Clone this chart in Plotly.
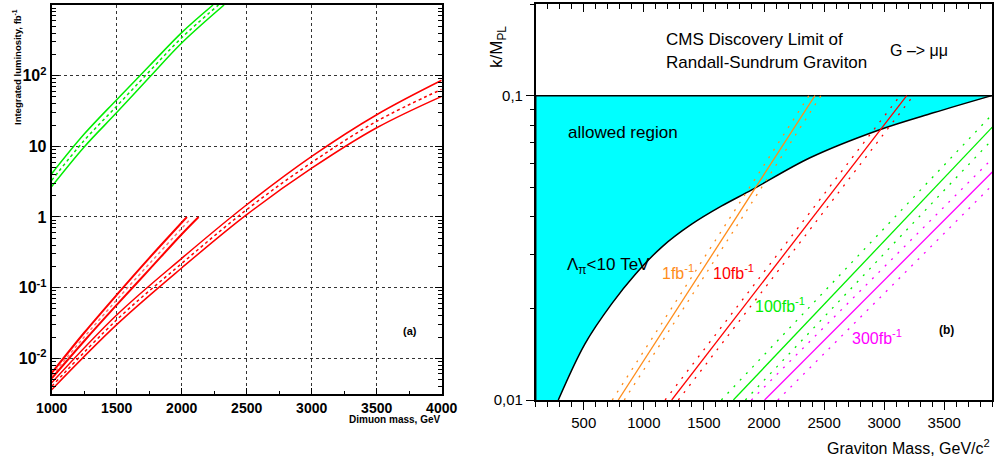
import plotly.graph_objects as go

# ================= Panel (a): integrated luminosity vs dimuon mass =================
green_upper_mass = [1000, 1250, 1500, 1750, 2000, 2241]
green_upper_lumi = [4.1, 14.9, 45.7, 137, 407, 1000]
green_mid_mass = [1000, 1250, 1500, 1750, 2000, 2283]
green_mid_lumi = [3.3, 12.1, 37, 114, 344, 1000]
green_lower_mass = [1000, 1250, 1500, 1750, 2000, 2326]
green_lower_lumi = [2.7, 9.8, 30, 94, 290, 1000]

redA_upper_mass = [1000, 1250, 1500, 1750, 2040]
redA_upper_lumi = [0.0062, 0.023, 0.079, 0.262, 1.0]
redA_mid_mass = [1000, 1250, 1500, 1750, 2000, 2060]
redA_mid_lumi = [0.0057, 0.020, 0.067, 0.217, 0.69, 0.91]
redA_lower_mass = [1000, 1250, 1500, 1750, 2000, 2130]
redA_lower_lumi = [0.0052, 0.0176, 0.057, 0.18, 0.57, 1.0]

redB_mass = [1000, 1500, 2000, 2500, 3000, 3500, 4000]
redB_upper_lumi = [0.0045, 0.041, 0.26, 1.49, 7.2, 28, 86]
redB_mid_lumi = [0.0040, 0.035, 0.22, 1.27, 5.9, 22.6, 64]
redB_lower_lumi = [0.0036, 0.030, 0.19, 1.08, 4.9, 18.3, 51]

a_xticks = [1000, 1500, 2000, 2500, 3000, 3500, 4000]
a_xminor = [1250, 1750, 2250, 2750, 3250, 3750]
a_yticks = [0.01, 0.1, 1, 10, 100]
a_yticktext = ["10<sup>-2</sup>", "10<sup>-1</sup>", "1", "10", "10<sup>2</sup>"]

# ================= Panel (b): k/M_PL vs graviton mass =================
boundary_mass = [288, 510, 732, 926, 1149, 1398, 1648, 1898, 2383, 2951, 3409, 3895]
boundary_k = [0.0100, 0.0153, 0.0207, 0.0258, 0.0318, 0.0378, 0.0434, 0.0490,
              0.0625, 0.0770, 0.0878, 0.1000]
allowed_edge_mass = [100, 100, 3900]
allowed_edge_k = [0.01, 0.1, 0.1]

disc_1fb_mass = [787, 2424]
disc_1fb_lo_mass = [737, 2374]
disc_1fb_hi_mass = [837, 2474]
disc_1fb_k = [0.01, 0.1]

disc_10fb_mass = [1232, 3188]
disc_10fb_lo_mass = [1177, 3133]
disc_10fb_hi_mass = [1287, 3243]
disc_10fb_k = [0.01, 0.1]

disc_100fb_mass = [1745, 3900]
disc_100fb_k = [0.01, 0.0788]
disc_100fb_lo_mass = [1645, 3900]
disc_100fb_lo_k = [0.01, 0.0868]
disc_100fb_hi_mass = [1845, 3900]
disc_100fb_hi_k = [0.01, 0.0717]

disc_300fb_mass = [2005, 3900]
disc_300fb_k = [0.01, 0.0561]
disc_300fb_lo_mass = [1895, 3900]
disc_300fb_lo_k = [0.01, 0.0621]
disc_300fb_hi_mass = [2115, 3900]
disc_300fb_hi_k = [0.01, 0.0508]

b_xticks = [500, 1000, 1500, 2000, 2500, 3000, 3500]
b_yticks = [0.01, 0.1]
b_yticktext = ["0,01", "0,1"]

# ---------------- styling ----------------
W, H = 995, 462
FONT = "Liberation Sans, Arial, Helvetica, sans-serif"
GREEN = "#00ee00"
RED = "#ff0000"
PINK = "#ff7070"
ORANGE = "#ff8c1a"
MAGENTA = "#ff00ff"
CYAN = "#00ffff"


def px(xp, yp):
    return xp / W, 1 - yp / H


fig = go.Figure()


def add_a(x, y, color, dash=None, width=1.5):
    fig.add_trace(go.Scatter(x=x, y=y, mode="lines", xaxis="x", yaxis="y",
                             line=dict(color=color, width=width, dash=dash, shape="spline"),
                             showlegend=False, hoverinfo="skip"))


add_a(green_upper_mass, green_upper_lumi, GREEN)
add_a(green_mid_mass, green_mid_lumi, GREEN, "3px,3px")
add_a(green_lower_mass, green_lower_lumi, GREEN)

add_a(redA_upper_mass, redA_upper_lumi, RED, width=2)
add_a(redA_mid_mass, redA_mid_lumi, PINK, "3px,3px")
add_a(redA_lower_mass, redA_lower_lumi, RED, width=2)

add_a(redB_mass, redB_upper_lumi, RED)
add_a(redB_mass, redB_mid_lumi, RED, "3px,3px")
add_a(redB_mass, redB_lower_lumi, RED)

# ---- panel b ----
fig.add_trace(go.Scatter(x=allowed_edge_mass, y=allowed_edge_k, mode="lines",
                         xaxis="x2", yaxis="y2",
                         line=dict(color="black", width=1.5),
                         showlegend=False, hoverinfo="skip"))
fig.add_trace(go.Scatter(x=boundary_mass, y=boundary_k, mode="lines",
                         xaxis="x2", yaxis="y2", fill="tonexty", fillcolor=CYAN,
                         line=dict(color="black", width=1.5, shape="spline"),
                         showlegend=False, hoverinfo="skip"))


def add_b(x, y, color, dash=None, width=1.3):
    fig.add_trace(go.Scatter(x=x, y=y, mode="lines", xaxis="x2", yaxis="y2",
                             line=dict(color=color, width=width, dash=dash),
                             showlegend=False, hoverinfo="skip"))


DOT = "2px,7px"
add_b(disc_1fb_mass, disc_1fb_k, ORANGE)
add_b(disc_1fb_lo_mass, disc_1fb_k, ORANGE, DOT)
add_b(disc_1fb_hi_mass, disc_1fb_k, ORANGE, DOT)
add_b(disc_10fb_mass, disc_10fb_k, RED)
add_b(disc_10fb_lo_mass, disc_10fb_k, RED, DOT)
add_b(disc_10fb_hi_mass, disc_10fb_k, RED, DOT)
add_b(disc_100fb_mass, disc_100fb_k, GREEN)
add_b(disc_100fb_lo_mass, disc_100fb_lo_k, GREEN, DOT)
add_b(disc_100fb_hi_mass, disc_100fb_hi_k, GREEN, DOT)
add_b(disc_300fb_mass, disc_300fb_k, MAGENTA)
add_b(disc_300fb_lo_mass, disc_300fb_lo_k, MAGENTA, DOT)
add_b(disc_300fb_hi_mass, disc_300fb_hi_k, MAGENTA, DOT)

# dummy for top overlay axis
fig.add_trace(go.Scatter(x=[None], y=[None], xaxis="x3", yaxis="y2",
                         showlegend=False, hoverinfo="skip"))

log_minor = [m * 10 ** e for e in range(-3, 3) for m in range(2, 10)]

fig.update_layout(
    width=W, height=H, autosize=False,
    margin=dict(l=0, r=0, t=0, b=0, autoexpand=False),
    paper_bgcolor="white", plot_bgcolor="white",
    font=dict(family=FONT, color="black"),
    showlegend=False,
    xaxis=dict(
        domain=[51.7 / W, 441.7 / W], range=[1000, 4000], anchor="y", automargin=False,
        tickmode="array", tickvals=a_xticks, ticks="inside", ticklen=6, tickwidth=1,
        tickcolor="black",
        minor=dict(tickmode="array", tickvals=a_xminor, ticks="inside", ticklen=3,
                   tickcolor="black", showgrid=False),
        showgrid=True, gridcolor="#333333", griddash="dot", gridwidth=1,
        showline=True, linecolor="black", linewidth=2, mirror=True, zeroline=False,
        tickfont=dict(family=FONT, size=14, weight="bold"),
    ),
    yaxis=dict(
        domain=[1 - 394 / H, 1 - 5 / H], type="log", range=[-2.505, 3.0], anchor="x",
        automargin=False,
        tickmode="array", tickvals=a_yticks, ticktext=a_yticktext,
        ticks="inside", ticklen=7, tickcolor="black",
        minor=dict(tickmode="array", tickvals=log_minor, ticks="inside", ticklen=4,
                   tickcolor="black", showgrid=False),
        showgrid=True, gridcolor="#333333", griddash="dot", gridwidth=1,
        showline=True, linecolor="black", linewidth=2, mirror="allticks", zeroline=False,
        tickfont=dict(family=FONT, size=16, weight="bold"),
    ),
    xaxis2=dict(
        domain=[535.7 / W, 992.3 / W], range=[100, 3900], anchor="y2", automargin=False,
        tickmode="array", tickvals=b_xticks, ticks="outside", ticklen=8, tickcolor="black",
        minor=dict(dtick=100, tick0=0, ticks="outside", ticklen=5, tickcolor="black",
                   showgrid=False),
        showgrid=False, showline=True, linecolor="black", linewidth=1.5, mirror=True,
        zeroline=False, tickfont=dict(family=FONT, size=15),
    ),
    xaxis3=dict(
        overlaying="x2", side="top", anchor="y2", range=[100, 3900], automargin=False,
        tickmode="array", tickvals=b_xticks, ticks="inside", ticklen=8, tickcolor="black",
        minor=dict(dtick=100, tick0=0, ticks="inside", ticklen=5, tickcolor="black",
                   showgrid=False),
        showticklabels=False, showgrid=False, showline=False, zeroline=False,
    ),
    yaxis2=dict(
        domain=[1 - 400 / H, 1 - 4 / H], type="log", range=[-2, -0.69897], anchor="x2",
        automargin=False,
        tickmode="array", tickvals=b_yticks, ticktext=b_yticktext,
        ticks="outside", ticklen=8, tickcolor="black",
        minor=dict(tickmode="array", tickvals=log_minor, ticks="outside", ticklen=4,
                   tickcolor="black", showgrid=False),
        showgrid=False, showline=True, linecolor="black", linewidth=1.5, mirror=True,
        zeroline=False, tickfont=dict(family=FONT, size=15),
    ),
)


def ann(text, xp, yp, size, color="black", bold=False, xanchor="left", angle=0):
    x, y = px(xp, yp)
    fig.add_annotation(text=text, x=x, y=y, xref="paper", yref="paper",
                       xanchor=xanchor, yanchor="middle", showarrow=False,
                       textangle=angle,
                       font=dict(family=FONT, size=size, color=color,
                                 weight="bold" if bold else "normal"))


# panel a texts
ann("Integrated luminosity, fb<sup>-1</sup>", 17, 67, 9.5, bold=True,
    xanchor="center", angle=-90)
ann("Dimuon mass, GeV", 441.7, 419, 10, bold=True, xanchor="right")
ann("(a)", 410, 331, 11, bold=True, xanchor="center")

# panel b texts
ann("k/M<sub>PL</sub>", 498, 47, 17, xanchor="center", angle=-90)
ann("Graviton Mass, GeV/c<sup>2</sup>", 992, 447, 16, xanchor="right")
ann("CMS Discovery Limit of", 664, 40, 17)
ann("Randall-Sundrum Graviton", 664, 63, 17)
ann("G –> μμ", 888, 50, 16)
ann("allowed region", 566, 133, 17)
ann("Λ<sub>π</sub>&lt;10 TeV", 565, 266, 17)
ann("1fb<sup>-1</sup>", 660, 272, 16, color=ORANGE)
ann("10fb<sup>-1</sup>", 711, 272, 16, color=RED)
ann("100fb<sup>-1</sup>", 753, 305, 16, color=GREEN)
ann("300fb<sup>-1</sup>", 850, 337, 16, color=MAGENTA)
ann("(b)", 946, 330, 12, bold=True, xanchor="center")

fig.write_html("out.html",
               config={"displayModeBar": False},
               post_script="document.body.style.margin='0px';document.body.style.overflow='hidden';")
